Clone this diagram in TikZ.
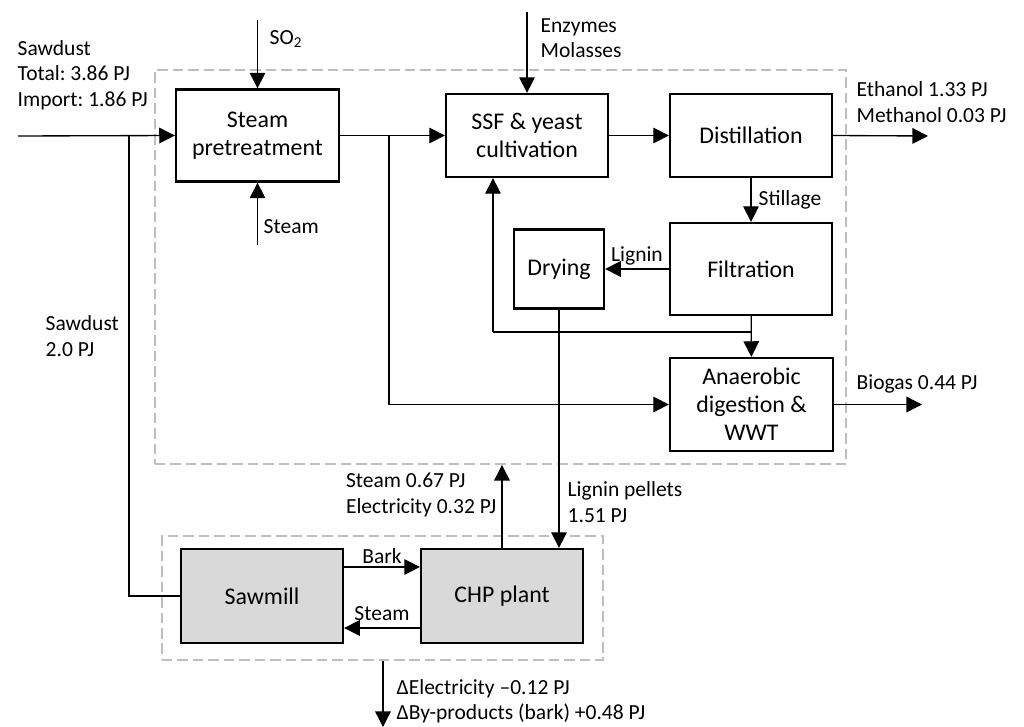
\documentclass[tikz,border=0pt]{standalone}
\usepackage{fontspec}
\setmainfont{Carlito}
\usetikzlibrary{arrows.meta,calc}
\definecolor{dashgray}{RGB}{190,190,190}
\definecolor{boxgray}{RGB}{217,217,217}
\frenchspacing

\begin{document}
\begin{tikzpicture}[x=0.025cm,y=-0.025cm,
		proc/.style={draw,line width=1.6pt,align=center,inner sep=1pt,font=\fontsize{17}{20}\selectfont},
		shaded/.style={proc,fill=boxgray},
		group/.style={draw=dashgray,dash pattern=on 7.5pt off 3.5pt,line width=1.3pt,inner sep=0pt},
		flow/.style={line width=0.95pt,-{Triangle[length=3.9mm,width=3.9mm]}},
		link/.style={line width=0.95pt},
		lbl/.style={font=\fontsize{15.3}{18}\selectfont,align=left,inner sep=1pt}]
	\useasboundingbox (0,0) rectangle (1024,727);
	% system boundaries
	\node[group,minimum width=17.275cm,minimum height=9.85cm] (plant) at (500.5,267) {};
	\node[group,minimum width=11.025cm,minimum height=3.1cm] (mill) at (382.5,598) {};
	% biorefinery
	\node[proc,minimum width=4.075cm,minimum height=2.3cm] (pre) at (257.5,135.5) {Steam\\pretreatment};
	\node[proc,minimum width=4.05cm,minimum height=2.075cm] (ssf) at (527,135.5) {SSF \& yeast\\cultivation};
	\node[proc,minimum width=4.05cm,minimum height=2.075cm] (dist) at (751,135.5) {Distillation};
	\node[proc,minimum width=4.05cm,minimum height=2.3cm] (filt) at (751,269) {Filtration};
	\node[proc,minimum width=2.25cm,minimum height=1.975cm] (dry) at (559,269) {Drying};
	\node[proc,minimum width=4.075cm,minimum height=2.325cm] (ad) at (751.5,404.5) {Anaerobic\\digestion \&\\WWT};
	% sawmill site
	\node[shaded,minimum width=4.05cm,minimum height=2.35cm] (saw) at (262,596) {Sawmill};
	\node[shaded,minimum width=4.05cm,minimum height=2.35cm] (chp) at (502,596) {CHP plant};
	% free ends and junctions
	\coordinate (sdin) at (18,136);
	\coordinate (j0) at (129,136);
	\coordinate (so2) at (257.5,20);
	\coordinate (stin) at (257.5,245);
	\coordinate (enz) at (527,12);
	\coordinate (j1) at (389,136);
	\coordinate (ethout) at (928,136);
	\coordinate (j2) at (751,332);
	\coordinate (j3) at (493,332);
	\coordinate (bgout) at (922,404.5);
	\coordinate (dout) at (383,727);
	% inputs
	\draw[flow] (sdin) -- (pre.west);
	\draw[link] (saw.west) -| (j0);
	\draw[flow] (so2) -- (pre.north);
	\draw[flow] (stin) -- (pre.south);
	\draw[flow] (enz) -- (ssf.north);
	\node[lbl,anchor=west] (sdlbl) at (16,75) {Sawdust\\Total: 3.86 PJ\\Import: 1.86 PJ};
	\node[lbl,anchor=west] (so2lbl) at (268,39) {SO\textsubscript{2}};
	\node[lbl,anchor=west] (stlbl) at (262,227) {Steam};
	\node[lbl,anchor=west] (enzlbl) at (539,38) {Enzymes\\Molasses};
	\node[lbl,anchor=west] (sd2lbl) at (44,336) {Sawdust\\2.0 PJ};
	% process streams
	\draw[flow] (pre) -- (ssf);
	\draw[flow] (j1) |- (ad.west);
	\draw[flow] (ssf) -- (dist);
	\draw[flow] (dist.east) -- (ethout);
	\node[lbl,anchor=west] (ethlbl) at (855,102) {Ethanol 1.33 PJ\\Methanol 0.03 PJ};
	\draw[flow] (dist) -- (filt) node[lbl,midway,right,inner sep=5pt] {Stillage};
	\draw[flow] (filt) -- (dry) node[lbl,midway,above,inner sep=2pt] {Lignin};
	\draw[flow] (filt) -- (ad);
	\draw[link] (j2) -- (j3);
	\draw[flow] (j3) -- (j3 |- ssf.south);
	\draw[flow] (ad.east) -- (bgout);
	\node[lbl,anchor=west] (bglbl) at (855,384) {Biogas 0.44 PJ};
	% links to the sawmill site
	\draw[flow] (dry.south) -- (dry.south |- chp.north);
	\node[lbl,anchor=west] (pellbl) at (566,502) {Lignin pellets\\1.51 PJ};
	\draw[flow] (chp.north) -- (chp.north |- plant.south);
	\node[lbl,anchor=east] (utlbl) at (498,495) {Steam 0.67 PJ\\Electricity 0.32 PJ};
	\draw[flow] ($(saw.east)+(0,-29)$) -- ($(chp.west)+(0,-29)$) node[lbl,midway,above,inner sep=2pt] {Bark};
	\draw[flow] ($(chp.west)+(0,32)$) -- ($(saw.east)+(0,32)$) node[lbl,midway,above,inner sep=5pt] {Steam};
	\draw[flow] (mill.south -| dout) -- (dout);
	\node[lbl,anchor=west] (dlbl) at (395,701) {ΔElectricity –0.12 PJ\\ΔBy-products (bark) +0.48 PJ};
\end{tikzpicture}
\end{document}
